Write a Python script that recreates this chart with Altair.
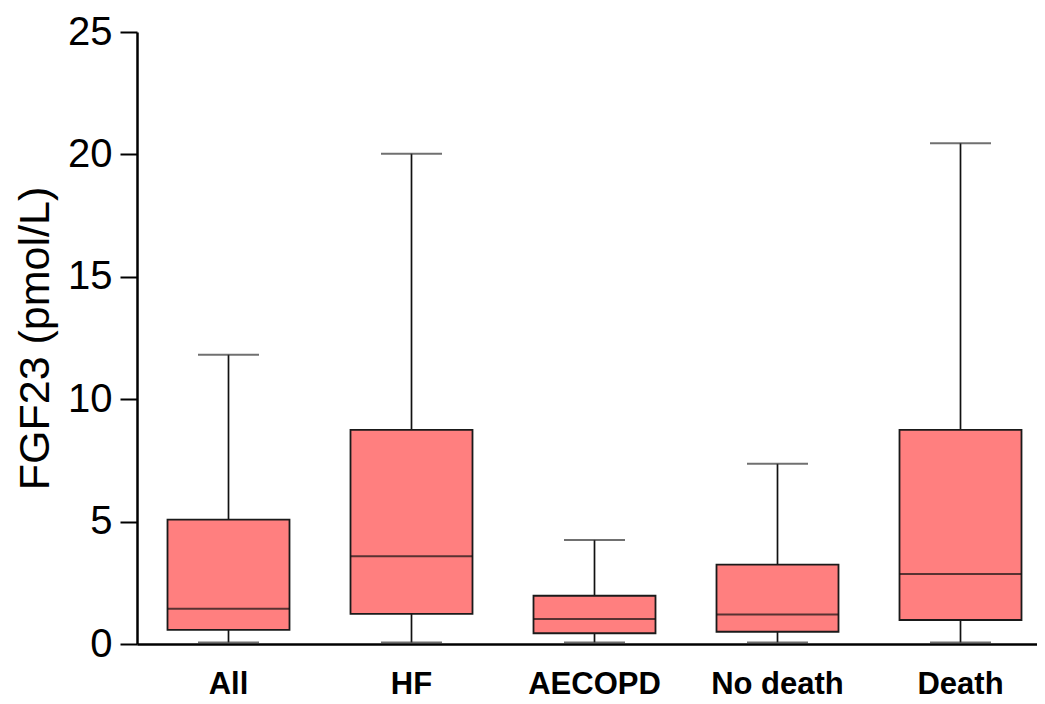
import altair as alt
import pandas as pd

categories = ["All", "HF", "AECOPD", "No death", "Death"]
whisker_low = [0.065, 0.065, 0.065, 0.065, 0.065]
q1 = [0.58, 1.23, 0.44, 0.50, 0.98]
median = [1.44, 3.58, 1.02, 1.20, 2.86]
q3 = [5.08, 8.75, 1.97, 3.24, 8.75]
whisker_high = [11.82, 20.03, 4.25, 7.36, 20.46]

df = pd.DataFrame({
    "group": categories,
    "low": whisker_low,
    "q1": q1,
    "median": median,
    "q3": q3,
    "high": whisker_high,
})

FONT = "Liberation Sans"

x = alt.X(
    "group:N",
    sort=categories,
    scale=alt.Scale(range=[0, 915], paddingInner=0, paddingOuter=0),
    axis=alt.Axis(
        title=None,
        labelAngle=0,
        labelFont=FONT,
        labelFontSize=31,
        labelFontWeight="bold",
        labelColor="black",
        labelPadding=25,
        ticks=False,
        domainColor="black",
        domainWidth=2.5,
    ),
)

y_axis = alt.Axis(
    title="FGF23 (pmol/L)",
    titleFont=FONT,
    titleFontSize=43,
    titleFontWeight="normal",
    titleColor="black",
    titlePadding=10,
    values=[0, 5, 10, 15, 20, 25],
    labelFont=FONT,
    labelFontSize=40,
    labelColor="black",
    labelPadding=8,
    tickSize=17,
    tickWidth=2,
    tickColor="black",
    domainColor="black",
    domainWidth=2.5,
    grid=False,
)
yscale = alt.Scale(domain=[0, 25], nice=False, zero=True)

base = alt.Chart(df)

whisker = base.mark_rule(color="#111111", strokeWidth=1.7).encode(
    x=x,
    y=alt.Y("low:Q", scale=yscale, axis=y_axis),
    y2="high:Q",
)

box = base.mark_bar(size=122, fill="#FF7F7F", stroke="#1a1a1a", strokeWidth=1.8).encode(
    x=x,
    y=alt.Y("q1:Q", scale=yscale, axis=y_axis),
    y2="q3:Q",
)

med = base.mark_tick(size=122, thickness=2, color="#111111").encode(
    x=x,
    y=alt.Y("median:Q", scale=yscale, axis=y_axis),
)

cap_hi = base.mark_tick(size=61, thickness=2, color="#333333").encode(
    x=x,
    y=alt.Y("high:Q", scale=yscale, axis=y_axis),
)

cap_lo = base.mark_tick(size=61, thickness=2, color="#333333").encode(
    x=x,
    y=alt.Y("low:Q", scale=yscale, axis=y_axis),
)

chart = (
    alt.layer(whisker, box, med, cap_hi, cap_lo)
    .properties(
        width=900,
        height=612,
        autosize=alt.AutoSizeParams(type="none"),
        padding={"left": 129, "top": 24, "right": 0, "bottom": 58},
        background="white",
    )
    .configure_view(stroke=None)
)

chart.save("out.html", embed_options={"renderer": "svg", "actions": False})
